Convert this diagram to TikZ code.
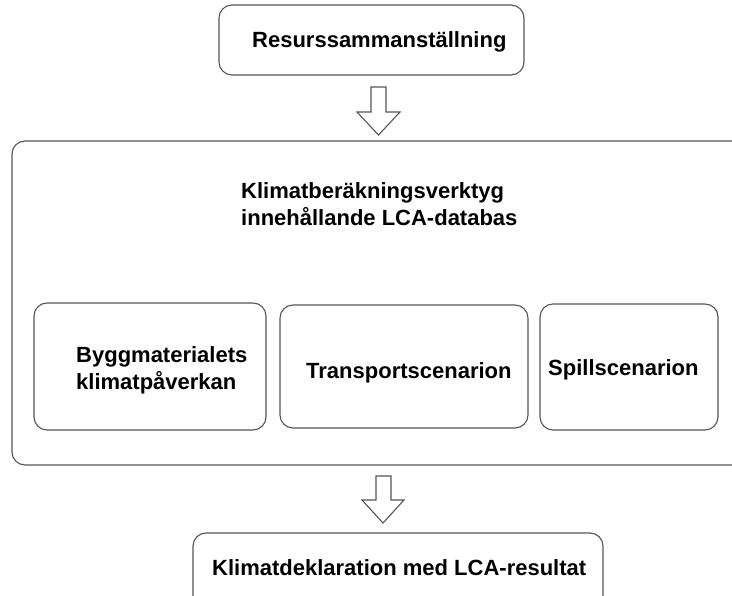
\documentclass[tikz,border=0pt]{standalone}
\usepackage{fontspec}
\setmainfont{Liberation Sans}
\begin{document}
\begin{tikzpicture}[x=1pt,y=-1pt,
  box/.style={draw=linegray,line width=1.1pt,rounded corners=13pt},
  lbl/.style={anchor=base west,inner sep=0pt,font=\fontsize{22}{26.5}\selectfont\bfseries,align=left},
  blockarrow/.style={draw=linegray,line width=1.1pt,fill=white}]
\definecolor{linegray}{HTML}{555555}
\useasboundingbox (0,0) rectangle (732,596);
\clip (0,0) rectangle (732,596);
% top box
\draw[box] (219,5) rectangle (524,75);
\node[lbl] (res) at (252,48) {Resurssammanställning};
% arrow 1
\draw[blockarrow] (371,87) -- (386,87) -- (386,112) -- (400,112) -- (378.5,135) -- (357,112) -- (371,112) -- cycle;
% big box
\draw[box] (12,141) rectangle (760,465);
\node[lbl] (tool) at (241,225.5) {Klimatberäkningsverktyg\\innehållande LCA-databas};
% inner boxes
\draw[box] (34,303) rectangle (266,430);
\node[lbl] (bygg) at (76,389.5) {Byggmaterialets\\klimatpåverkan};
\draw[box] (280,305) rectangle (528,428);
\node[lbl] (trans) at (306,379) {Transportscenarion};
\draw[box] (540,304) rectangle (718,430);
\node[lbl] (spill) at (548,376) {Spillscenarion};
% arrow 2
\draw[blockarrow] (376,476) -- (391,476) -- (391,500) -- (404,500) -- (383,523) -- (362,500) -- (376,500) -- cycle;
% bottom box
\draw[box] (193,533) rectangle (603,620);
\node[lbl] (decl) at (212,575) {Klimatdeklaration med LCA-resultat};
\end{tikzpicture}
\end{document}
